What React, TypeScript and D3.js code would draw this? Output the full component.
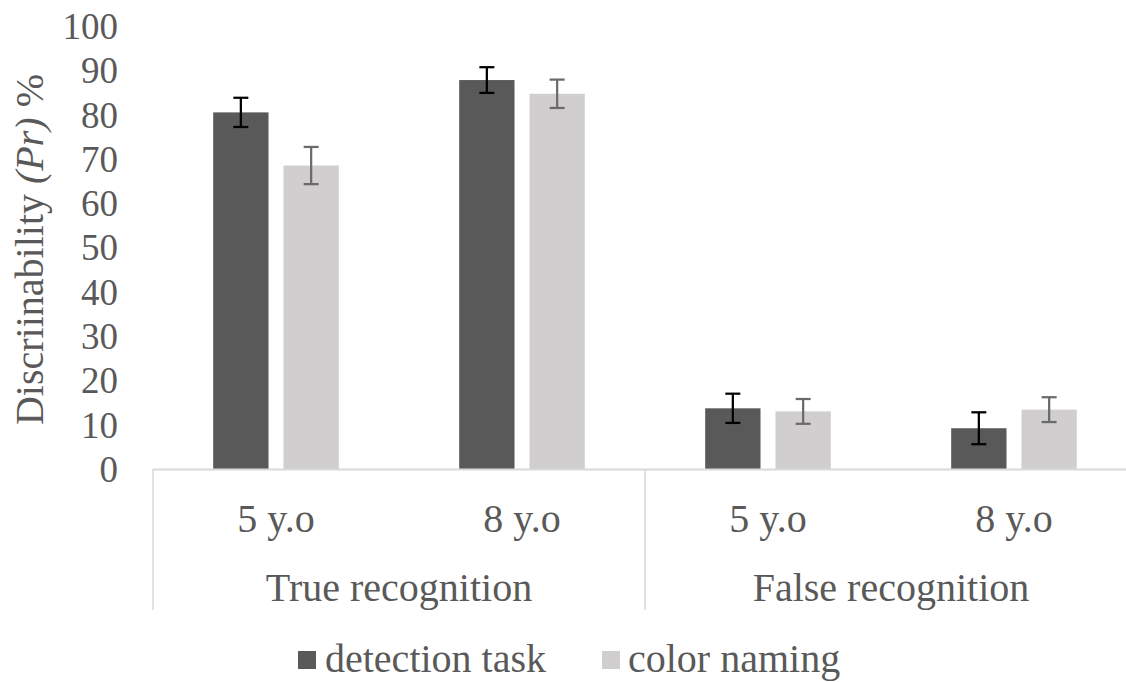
import React from "react";
import * as d3 from "d3";

const groups = ["True recognition", "False recognition"];
const ages = ["5 y.o", "8 y.o"];
const categories = ["True-5", "True-8", "False-5", "False-8"];
const seriesNames = ["detection task", "color naming"];
const detection = [80.5, 87.8, 13.7, 9.2];
const detectionErr = [3.3, 2.9, 3.3, 3.6];
const colorNaming = [68.5, 84.7, 13.0, 13.4];
const colorNamingErr = [4.2, 3.2, 2.8, 2.8];
const yTicks = [0, 10, 20, 30, 40, 50, 60, 70, 80, 90, 100];

const W = 1126;
const H = 682;
const FONT = '"Liberation Serif", serif';
const FS = 40;
const TFS = 37;
const TEXT = "#595959";
const COLORS = ["#595959", "#d0cece"];
const ERRCOL = ["#000000", "#6a6a6a"];

export default function App() {
  const left = 153;
  const right = 1137;
  const y0 = 469;
  const y100 = 26;
  const x = d3.scaleBand<string>().domain(categories).range([left, right]).padding(0);
  const inner = d3
    .scaleBand<string>()
    .domain(seriesNames)
    .range([0, x.bandwidth()])
    .paddingInner(0.213)
    .paddingOuter(0.856);
  const y = d3.scaleLinear().domain([0, 100]).range([y0, y100]);
  const series = [
    { name: seriesNames[0], vals: detection, errs: detectionErr },
    { name: seriesNames[1], vals: colorNaming, errs: colorNamingErr },
  ];
  const groupW = x.bandwidth() * 2;
  const cap = 7.5;
  const ts = { fontFamily: FONT };

  return (
    <svg width={W} height={H} style={{ position: "absolute", left: 0, top: 0, background: "#fff" }}>
      <rect x={0} y={0} width={W} height={H} fill="#fff" />
      {yTicks.map((t) => (
        <text key={t} x={118} y={y(t)} dy="0.35em" textAnchor="end" style={ts} fontSize={TFS} fill={TEXT}>
          {t}
        </text>
      ))}
      <text
        transform={`translate(43, ${(y0 + y100) / 2 + 2}) rotate(-90)`}
        textAnchor="middle"
        style={ts}
        fontSize={FS}
        fill={TEXT}
      >
        Discriinability <tspan fontStyle="italic">(Pr)</tspan> %
      </text>
      {series.map((s, si) =>
        categories.map((c, ci) => (
          <rect
            key={s.name + c}
            x={(x(c) as number) + (inner(s.name) as number)}
            y={y(s.vals[ci])}
            width={inner.bandwidth()}
            height={y(0) - y(s.vals[ci])}
            fill={COLORS[si]}
          />
        ))
      )}
      {series.map((s, si) =>
        categories.map((c, ci) => {
          const cx = (x(c) as number) + (inner(s.name) as number) + inner.bandwidth() / 2;
          const hi = y(s.vals[ci] + s.errs[ci]);
          const lo = y(s.vals[ci] - s.errs[ci]);
          return (
            <g key={"e" + s.name + c} stroke={ERRCOL[si]} strokeWidth={2.25}>
              <line x1={cx} x2={cx} y1={hi} y2={lo} />
              <line x1={cx - cap} x2={cx + cap} y1={hi} y2={hi} />
              <line x1={cx - cap} x2={cx + cap} y1={lo} y2={lo} />
            </g>
          );
        })
      )}
      <line x1={left} x2={right} y1={y0 + 0.5} y2={y0 + 0.5} stroke="#d9d9d9" strokeWidth={2} />
      {[0, 1, 2].map((i) => (
        <line
          key={"sep" + i}
          x1={left + i * groupW}
          x2={left + i * groupW}
          y1={y0}
          y2={610}
          stroke="#d9d9d9"
          strokeWidth={1.5}
        />
      ))}
      {categories.map((c, ci) => (
        <text
          key={"cl" + c}
          x={(x(c) as number) + x.bandwidth() / 2}
          y={532}
          textAnchor="middle"
          style={ts}
          fontSize={FS}
          fill={TEXT}
        >
          {ages[ci % 2]}
        </text>
      ))}
      {groups.map((g, gi) => (
        <text
          key={g}
          x={left + gi * groupW + groupW / 2}
          y={601}
          textAnchor="middle"
          style={ts}
          fontSize={FS}
          fill={TEXT}
        >
          {g}
        </text>
      ))}
      <rect x={298} y={651} width={18} height={18} fill={COLORS[0]} />
      <text x={325} y={672} style={ts} fontSize={FS} fill={TEXT}>
        {seriesNames[0]}
      </text>
      <rect x={602} y={651} width={18} height={18} fill={COLORS[1]} />
      <text x={628} y={672} style={ts} fontSize={FS} fill={TEXT}>
        {seriesNames[1]}
      </text>
    </svg>
  );
}
